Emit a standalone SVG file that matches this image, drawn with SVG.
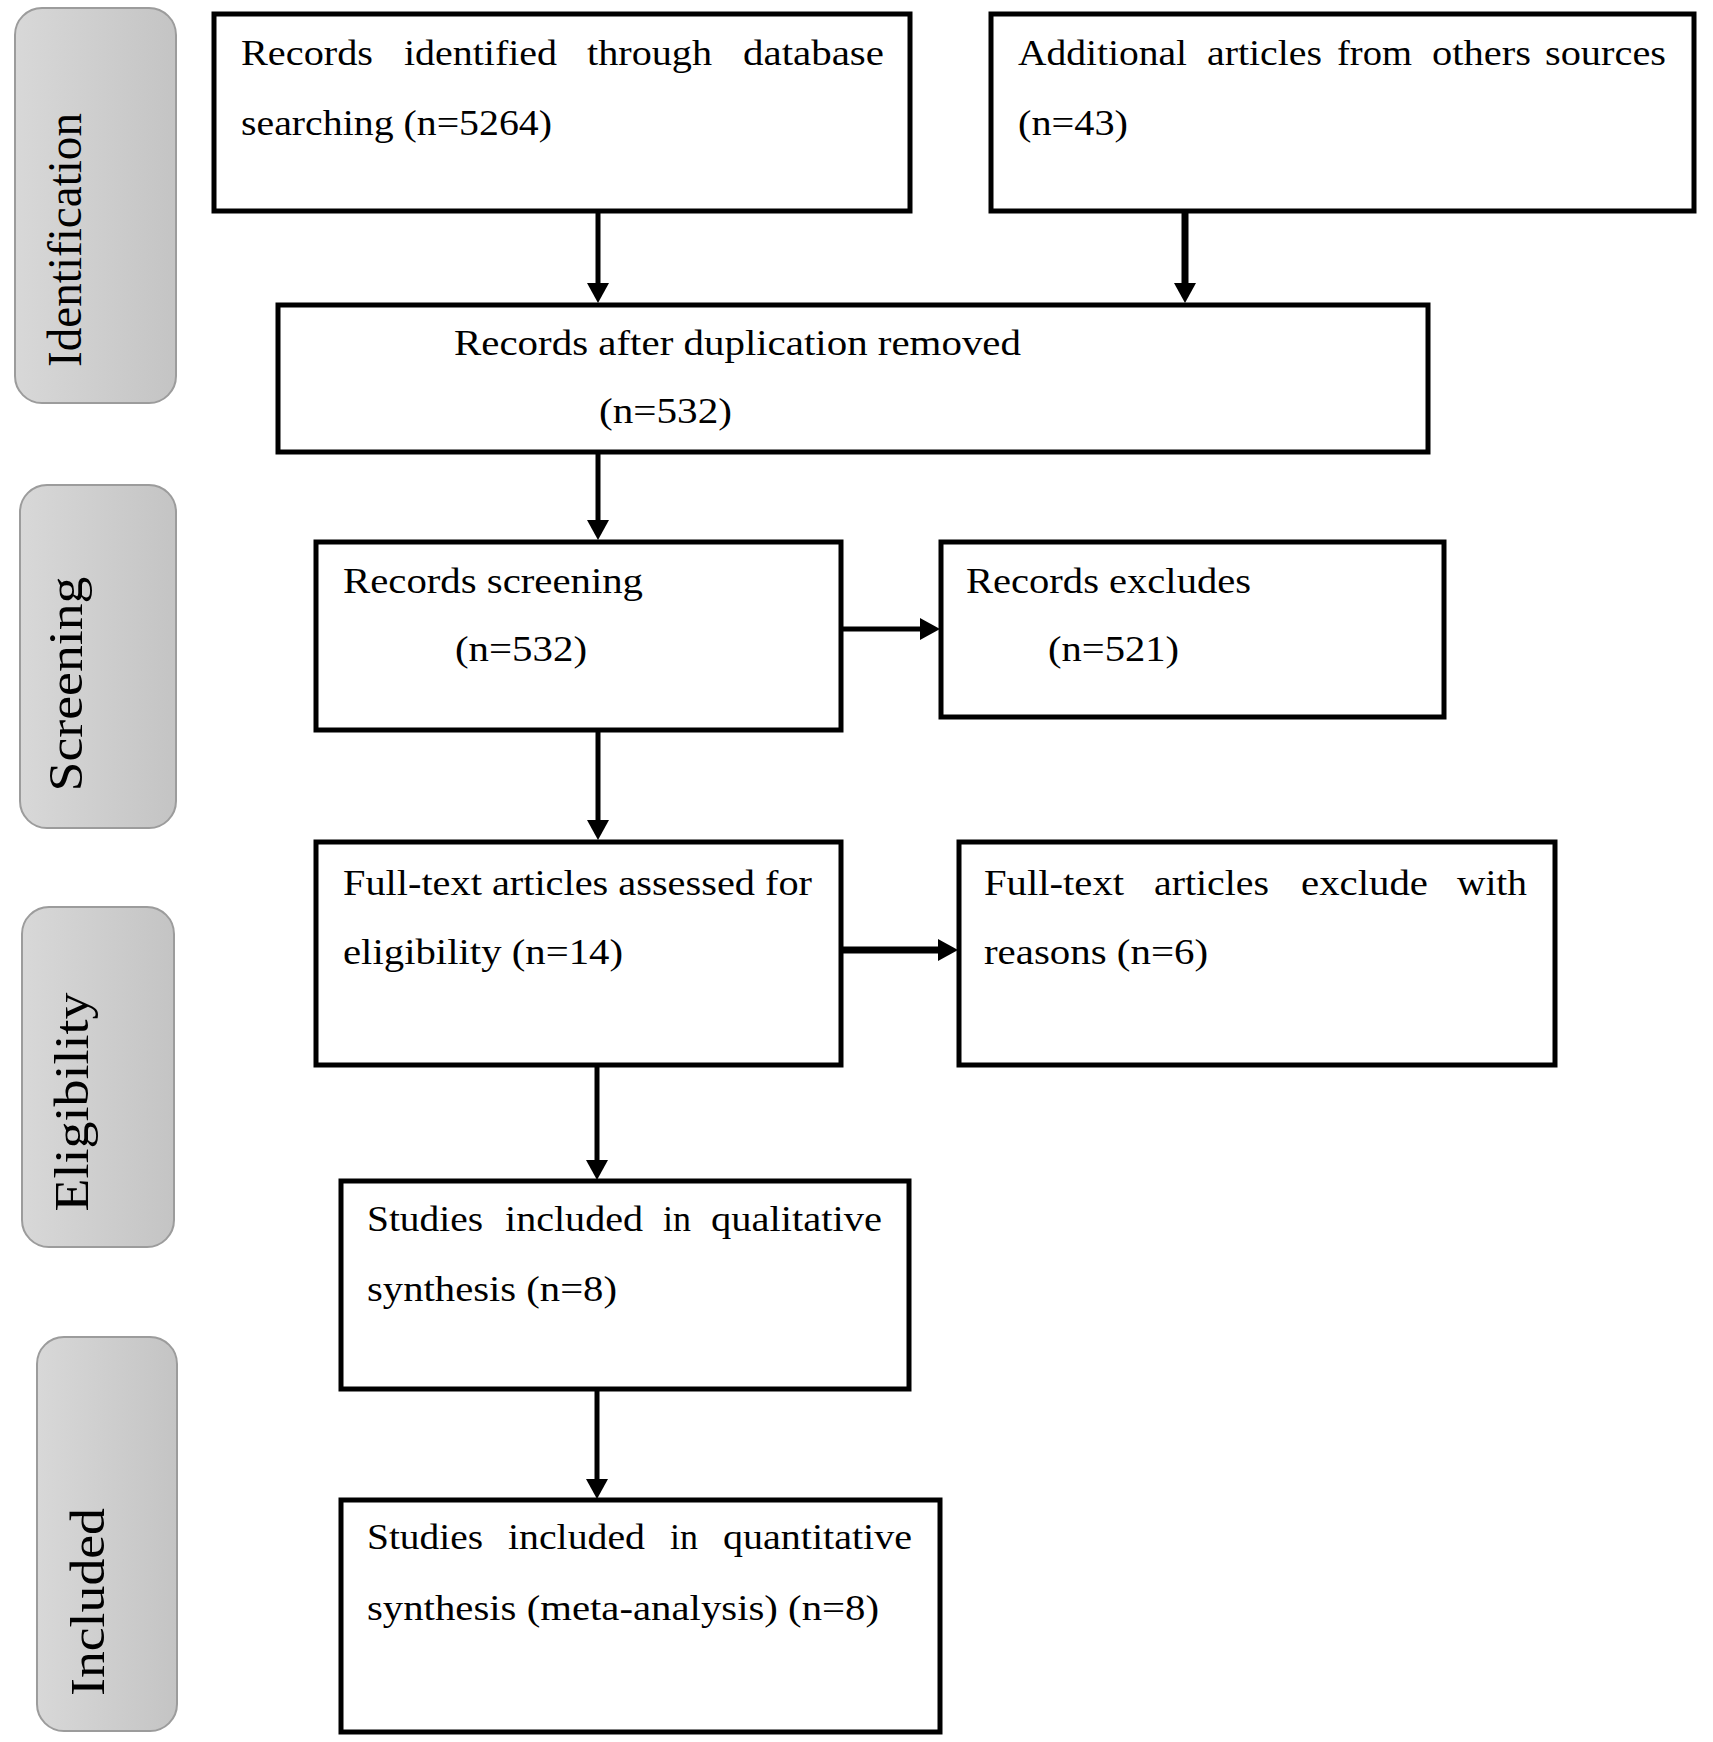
<svg xmlns="http://www.w3.org/2000/svg" width="1713" height="1742" viewBox="0 0 1713 1742">
<style>
.box{fill:#fff;stroke:#000;stroke-width:5}
.lane{fill:url(#laneGrad);stroke:#9c9c9c;stroke-width:2}
.lt{font-family:"Liberation Serif","Times New Roman",serif;font-size:48px;fill:#000;text-anchor:middle}
.t{font-family:"Liberation Serif","Times New Roman",serif;font-size:36px;fill:#000}
.c{stroke:#000;stroke-width:5;fill:none}
.cb{stroke:#000;stroke-width:7;fill:none}
</style>
<defs>
<linearGradient id="laneGrad" x1="0" y1="0" x2="1" y2="0">
<stop offset="0" stop-color="#d8d8d8"/>
<stop offset="1" stop-color="#c4c4c4"/>
</linearGradient>
<marker id="ah" markerUnits="userSpaceOnUse" markerWidth="20" markerHeight="22" refX="0" refY="11" orient="auto" viewBox="0 0 20 22">
<path d="M0,0 L20,11 L0,22 Z" fill="#000"/>
</marker>
</defs>
<rect width="1713" height="1742" fill="#fff"/>

<g id="lane-identification">
<rect class="lane" x="15" y="8" width="161" height="395" rx="27" ry="27"/>
<text class="lt" x="81" y="240" transform="rotate(-90 81 240)" textLength="254" lengthAdjust="spacingAndGlyphs">Identification</text>
</g>
<g id="lane-screening">
<rect class="lane" x="20" y="485" width="156" height="343" rx="27" ry="27"/>
<text class="lt" x="82" y="684" transform="rotate(-90 82 684)" textLength="215" lengthAdjust="spacingAndGlyphs">Screening</text>
</g>
<g id="lane-eligibility">
<rect class="lane" x="22" y="907" width="152" height="340" rx="27" ry="27"/>
<text class="lt" x="88" y="1102" transform="rotate(-90 88 1102)" textLength="219" lengthAdjust="spacingAndGlyphs">Eligibility</text>
</g>
<g id="lane-included">
<rect class="lane" x="37" y="1337" width="140" height="394" rx="27" ry="27"/>
<text class="lt" x="104" y="1602" transform="rotate(-90 104 1602)" textLength="188" lengthAdjust="spacingAndGlyphs">Included</text>
</g>

<g id="connectors">
<line class="c" x1="598" y1="212" x2="598" y2="283" marker-end="url(#ah)"/>
<line class="cb" x1="1185" y1="213" x2="1185" y2="283" marker-end="url(#ah)"/>
<line class="c" x1="598" y1="453" x2="598" y2="520" marker-end="url(#ah)"/>
<line class="c" x1="842" y1="629" x2="920" y2="629" marker-end="url(#ah)"/>
<line class="c" x1="598" y1="731" x2="598" y2="820" marker-end="url(#ah)"/>
<line class="cb" x1="842" y1="950" x2="938" y2="950" marker-end="url(#ah)"/>
<line class="c" x1="597" y1="1066" x2="597" y2="1160" marker-end="url(#ah)"/>
<line class="c" x1="597" y1="1390" x2="597" y2="1479" marker-end="url(#ah)"/>
</g>

<g id="node-database">
<rect class="box" x="214" y="14" width="696" height="197"/>
<text class="t" y="65"><tspan x="241" textLength="132" lengthAdjust="spacingAndGlyphs">Records</tspan> <tspan x="404" textLength="153" lengthAdjust="spacingAndGlyphs">identified</tspan> <tspan x="587" textLength="125" lengthAdjust="spacingAndGlyphs">through</tspan> <tspan x="743" textLength="141" lengthAdjust="spacingAndGlyphs">database</tspan></text>
<text class="t" x="241" y="135" textLength="311" lengthAdjust="spacingAndGlyphs">searching (n=5264)</text>
</g>

<g id="node-additional">
<rect class="box" x="991" y="14" width="703" height="197"/>
<text class="t" y="65"><tspan x="1018" textLength="169" lengthAdjust="spacingAndGlyphs">Additional</tspan> <tspan x="1207" textLength="115" lengthAdjust="spacingAndGlyphs">articles</tspan> <tspan x="1337" textLength="75" lengthAdjust="spacingAndGlyphs">from</tspan> <tspan x="1432" textLength="99" lengthAdjust="spacingAndGlyphs">others</tspan> <tspan x="1545" textLength="121" lengthAdjust="spacingAndGlyphs">sources</tspan></text>
<text class="t" x="1018" y="135" textLength="110" lengthAdjust="spacingAndGlyphs">(n=43)</text>
</g>

<g id="node-duplicates">
<rect class="box" x="278" y="305" width="1150" height="147"/>
<text class="t" x="454" y="355" textLength="567" lengthAdjust="spacingAndGlyphs">Records after duplication removed</text>
<text class="t" x="599" y="423" textLength="133" lengthAdjust="spacingAndGlyphs">(n=532)</text>
</g>

<g id="node-screening">
<rect class="box" x="316" y="542" width="525" height="188"/>
<text class="t" x="343" y="593" textLength="300" lengthAdjust="spacingAndGlyphs">Records screening</text>
<text class="t" x="455" y="661" textLength="132" lengthAdjust="spacingAndGlyphs">(n=532)</text>
</g>

<g id="node-excluded">
<rect class="box" x="941" y="542" width="503" height="175"/>
<text class="t" x="966" y="593" textLength="285" lengthAdjust="spacingAndGlyphs">Records excludes</text>
<text class="t" x="1048" y="661" textLength="131" lengthAdjust="spacingAndGlyphs">(n=521)</text>
</g>

<g id="node-fulltext">
<rect class="box" x="316" y="842" width="525" height="223"/>
<text class="t" x="343" y="895" textLength="469" lengthAdjust="spacingAndGlyphs">Full-text articles assessed for</text>
<text class="t" x="343" y="964" textLength="280" lengthAdjust="spacingAndGlyphs">eligibility (n=14)</text>
</g>

<g id="node-fulltext-excluded">
<rect class="box" x="959" y="842" width="596" height="223"/>
<text class="t" y="895"><tspan x="984" textLength="140" lengthAdjust="spacingAndGlyphs">Full-text</tspan> <tspan x="1154" textLength="115" lengthAdjust="spacingAndGlyphs">articles</tspan> <tspan x="1301" textLength="127" lengthAdjust="spacingAndGlyphs">exclude</tspan> <tspan x="1457" textLength="70" lengthAdjust="spacingAndGlyphs">with</tspan></text>
<text class="t" x="984" y="964" textLength="224" lengthAdjust="spacingAndGlyphs">reasons (n=6)</text>
</g>

<g id="node-qualitative">
<rect class="box" x="341" y="1181" width="568" height="208"/>
<text class="t" y="1231"><tspan x="367" textLength="116" lengthAdjust="spacingAndGlyphs">Studies</tspan> <tspan x="505" textLength="138" lengthAdjust="spacingAndGlyphs">included</tspan> <tspan x="663" textLength="28" lengthAdjust="spacingAndGlyphs">in</tspan> <tspan x="711" textLength="171" lengthAdjust="spacingAndGlyphs">qualitative</tspan></text>
<text class="t" x="367" y="1301" textLength="250" lengthAdjust="spacingAndGlyphs">synthesis (n=8)</text>
</g>

<g id="node-quantitative">
<rect class="box" x="341" y="1500" width="599" height="232"/>
<text class="t" y="1549"><tspan x="367" textLength="116" lengthAdjust="spacingAndGlyphs">Studies</tspan> <tspan x="508" textLength="137" lengthAdjust="spacingAndGlyphs">included</tspan> <tspan x="670" textLength="28" lengthAdjust="spacingAndGlyphs">in</tspan> <tspan x="723" textLength="189" lengthAdjust="spacingAndGlyphs">quantitative</tspan></text>
<text class="t" x="367" y="1620" textLength="512" lengthAdjust="spacingAndGlyphs">synthesis (meta-analysis) (n=8)</text>
</g>
</svg>
